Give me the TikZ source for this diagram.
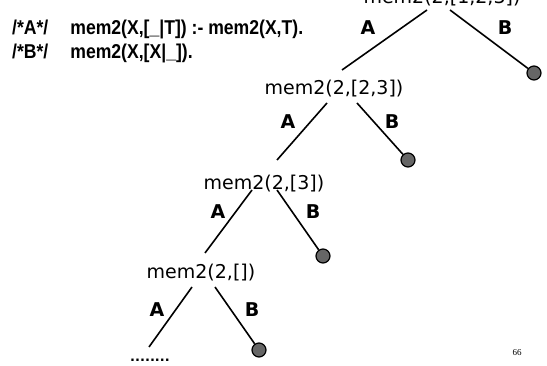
\documentclass[tikz,border=0pt]{standalone}
\usepackage{fontspec}
\newfontfamily\nodefont{DejaVu Sans}
\newfontfamily\narrowfont[FakeStretch=0.88]{Liberation Sans}
\newfontfamily\pagefont{Liberation Serif}
\begin{document}
\begin{tikzpicture}[x=1pt,y=-1pt,
  goal/.style={inner sep=0pt,anchor=base,font=\nodefont\fontsize{19}{21}\selectfont},
  lab/.style={inner sep=0pt,font=\nodefont\bfseries\fontsize{19}{21}\selectfont},
  edge/.style={line width=1.6pt},
  leaf/.style={circle,draw=black,line width=1.2pt,fill=black!60,minimum size=14pt,inner sep=0pt},
  rule/.style={inner sep=0pt,anchor=base west,font=\narrowfont\bfseries\fontsize{20}{22}\selectfont}]
\useasboundingbox (0,0) rectangle (547,366);
% program text
\node[rule] (r1) at (12,35) {/*A*/\hspace{1.1em}mem2(X,[\_|T]) :- mem2(X,T).};
\node[rule] (r2) at (12,59) {/*B*/\hspace{1.1em}mem2(X,[X|\_]).};
% goals
\node[goal] (g1) at (442,4) {mem2(2,[1,2,3])};
\node[goal] (g2) at (334,95) {mem2(2,[2,3])};
\node[goal] (g3) at (264,190) {mem2(2,[3])};
\node[goal] (g4) at (201,279) {mem2(2,[])};
% leaves
\node[leaf] (l1) at (534,73) {};
\node[leaf] (l2) at (408,160) {};
\node[leaf] (l3) at (323,256) {};
\node[leaf] (l4) at (259,350) {};
% edge end points
\coordinate (a1s) at (427,10);  \coordinate (a1e) at (342,70);
\coordinate (b1s) at (450,10);
\coordinate (a2s) at (327,103); \coordinate (a2e) at (277,160);
\coordinate (b2s) at (357,103);
\coordinate (a3s) at (252,190); \coordinate (a3e) at (205,253);
\coordinate (b3s) at (277,190);
\coordinate (a4s) at (192,287); \coordinate (a4e) at (149,347);
\coordinate (b4s) at (215,287);
\draw[edge] (a1s) -- (a1e);
\draw[edge] (b1s) -- (l1);
\draw[edge] (a2s) -- (a2e);
\draw[edge] (b2s) -- (l2);
\draw[edge] (a3s) -- (a3e);
\draw[edge] (b3s) -- (l3);
\draw[edge] (a4s) -- (a4e);
\draw[edge] (b4s) -- (l4);
% labels
\node[lab] (la1) at (368,28) {A};
\node[lab] (lb1) at (505,28) {B};
\node[lab] (la2) at (288,122) {A};
\node[lab] (lb2) at (392,122) {B};
\node[lab] (la3) at (218,212) {A};
\node[lab] (lb3) at (313,212) {B};
\node[lab] (la4) at (157,310) {A};
\node[lab] (lb4) at (252,310) {B};
% continuation dots
\node[inner sep=0pt,font=\nodefont\bfseries\fontsize{13}{15}\selectfont] (dots) at (150,360) {........};
% page number
\node[inner sep=0pt,font=\pagefont\fontsize{9}{10}\selectfont] (pg) at (517,353) {66};
\end{tikzpicture}
\end{document}
